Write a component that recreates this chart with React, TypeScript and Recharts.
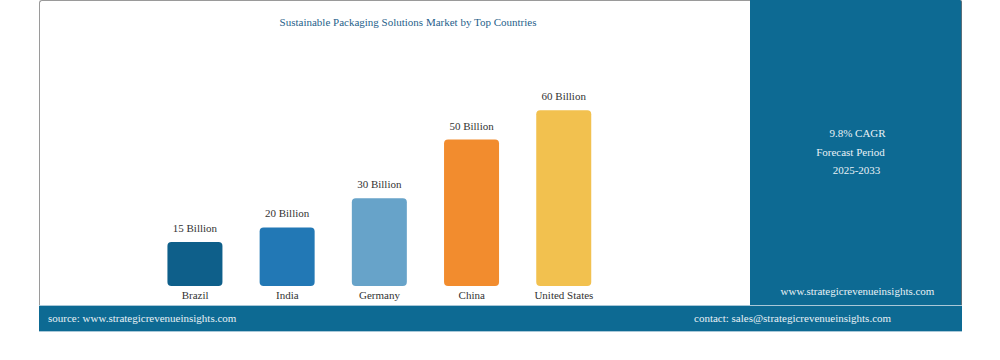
import React from 'react';
import { BarChart, Bar, XAxis, YAxis, Cell, LabelList } from 'recharts';

const countries = ['Brazil', 'India', 'Germany', 'China', 'United States'];
const marketSize = [15, 20, 30, 50, 60];
const barColors = ['#0e5f8a', '#2278b5', '#67a3c9', '#f28c2e', '#f2c14f'];

const data = countries.map((name, i) => ({ name, value: marketSize[i] }));

const FONT = '"Liberation Serif", "DejaVu Serif", serif';
const PANEL = '#0d6a93';

// value label drawn above each bar, kept on one line
const ValueLabel = (props: any) => {
  const { x, y, width, value } = props;
  return (
    <text x={x + width / 2} y={y - 10} textAnchor="middle" fontSize={11} fill="#333" fontFamily={FONT}>
      {`${value} Billion`}
    </text>
  );
};

const App: React.FC = () => {
  return (
    <div style={{ position: 'relative', width: 1000, height: 360, background: '#fff', fontFamily: FONT }}>
      <style>{`body{margin:0}`}</style>
      {/* white chart area */}
      <div style={{ position: 'absolute', left: 39, top: 0, width: 711, height: 305, borderLeft: '1px solid #9a9a9a', borderTop: '1px solid #9a9a9a', borderTopLeftRadius: 3, boxSizing: 'border-box' }} />

      <div style={{ position: 'absolute', left: 39, top: 16, width: 738, textAlign: 'center', fontSize: 11, color: '#1f5f8b' }}>
        Sustainable Packaging Solutions Market by Top Countries
      </div>

      <div style={{ position: 'absolute', left: 39, top: 0 }}>
        <BarChart
          width={711}
          height={305}
          data={data}
          margin={{ top: 40, right: 140, left: 110, bottom: 0 }}
          barCategoryGap="20%"
        >
          <XAxis
            dataKey="name"
            axisLine={false}
            tickLine={false}
            tickSize={3}
            height={19}
            interval={0}
            tick={{ fontSize: 11, fill: '#333', fontFamily: FONT }}
          />
          <YAxis hide domain={[0, 84]} />
          <Bar dataKey="value" radius={[4, 4, 4, 4]} isAnimationActive={false}>
            {data.map((d, i) => (
              <Cell key={d.name} fill={barColors[i]} />
            ))}
            <LabelList dataKey="value" content={ValueLabel} />
          </Bar>
        </BarChart>
      </div>

      {/* right side panel */}
      <div style={{ position: 'absolute', left: 750, top: 0, width: 212, height: 332, background: PANEL, borderRight: '1px solid #5a6f7a', borderTopRightRadius: 2, boxSizing: 'border-box', color: '#e8f1f6', fontSize: 11 }}>
        <div style={{ position: 'absolute', top: 127, width: '100%', textAlign: 'center' }}>
          <div style={{ height: 19, paddingLeft: 4 }}>9.8% CAGR</div>
          <div style={{ height: 18, paddingRight: 10 }}>Forecast Period</div>
          <div style={{ height: 18, paddingLeft: 2 }}>2025-2033</div>
        </div>
        <div style={{ position: 'absolute', top: 285, width: '100%', textAlign: 'center', paddingLeft: 4, boxSizing: 'border-box' }}>
          www.strategicrevenueinsights.com
        </div>
      </div>

      {/* bottom bar */}
      <div style={{ position: 'absolute', left: 39, top: 305, width: 923, height: 27, background: PANEL, borderTop: '1px solid #a9c8d8', borderBottom: '1px solid #a9c8d8', boxSizing: 'border-box', color: '#e8f1f6', fontSize: 11 }}>
        <span style={{ position: 'absolute', left: 9, top: 6 }}>source: www.strategicrevenueinsights.com</span>
        <span style={{ position: 'absolute', left: 655, top: 6 }}>contact: sales@strategicrevenueinsights.com</span>
      </div>
    </div>
  );
};

export default App;
